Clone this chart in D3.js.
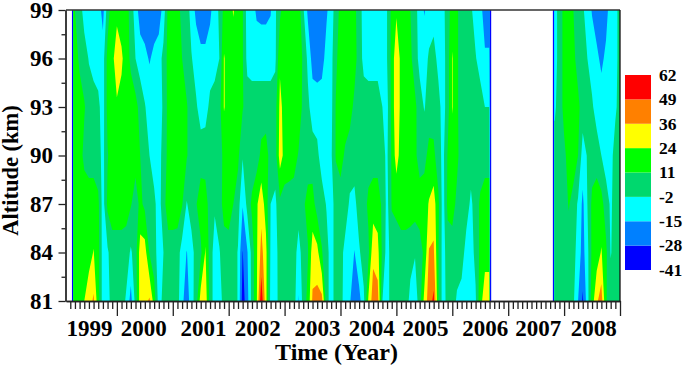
<!DOCTYPE html>
<html>
<head>
<meta charset="utf-8">
<script src="https://d3js.org/d3.v7.min.js"></script>
<style>
  html, body { margin: 0; padding: 0; background: #fff; }
  text { font-family: "Liberation Serif", serif; font-weight: bold; fill: #000; }
</style>
</head>
<body>
<svg id="chart" width="685" height="368"></svg>
<script>
// altitude rows, one value per month (1999 Apr - 2006 Aug, then 2007 Nov - 2009 Jan)
var altitudes = [99, 96, 93, 90, 87, 84, 81];
var alt99 = [11,5,-8,-8,-8,-8,-20,5,18, 20,18,18,5,-8,-22,-22,-22,-22,-22,-10,15, 18,18,5,5,-8,-18,-22,-22,-18,-8,0,15, 18,25,18,12,-8,-10,-17,-18,-18,-16,-4,8, 18,18,18,18,0,-18,-22,-22,-22,-17,-8,4, 15,18,18,14,5,-8,-13,-10,-8,-8,-2,15, 22,18,18,11,3,-8,-16,-10,-8,-8,-6,5, 18,13,5,3,0,-8,-10,-22, -8,4, 15,18,11,5,0,-8,-16,-22,-22,-20,-8,-6, 3];
var alt96 = [18,8,5,-3,-8,-8,-8,15,20, 32,26,18,8,-2,-8,-12,-16,-12,-8,2,15, 18,18,11,5,-1,-8,-12,-12,-8,-8,-2,25, 18,18,18,12,-6,-8,-8,-8,-8,-8,-5,22, 18,18,18,18,9,-5,-20,-22,-20,-10,-6,8, 18,18,18,16,5,-6,-8,-8,-8,-8,-2,15, 34,20,18,14,4,-6,-8,0,3,-6,-8,5, 25,13,5,5,3,-1,-8,-13, -8,4, 15,18,14,6,4,-2,-8,-12,-18,-12,-8,-6, 3];
var alt93 = [18,18,12,6,5,1,-8,15,18, 22,20,18,18,16,6,-1,-8,-8,-8,0,15, 18,18,18,12,5,0,-8,-7,1,5,6,25, 18,18,18,12,5,5,5,5,5,5,6,27, 20,18,18,18,8,1,-8,-8,-8,-8,-6,12, 18,18,16,8,5,5,5,5,5,-2,-6,15, 34,20,18,18,14,4,-3,4,5,3,-8,5, 25,13,5,5,5,5,5,-2, -4,4, 15,18,18,14,5,5,0,-8,-8,-8,-8,-4, 3];
var alt90 = [18,16,8,5,5,3,-6,10,18, 18,18,18,18,16,11,5,-2,-8,-6,2,15, 18,18,18,12,5,5,5,5,5,5,6,14, 18,18,14,-1,4,2,5,14,16,6,5,30, 20,18,16,10,5,5,4,1,-8,-8,-4,12, 16,9,5,5,5,5,5,5,5,1,-4,13, 30,18,18,18,14,5,7,15,14,4,-6,12, 18,14,5,5,5,5,5,5, 3,5, 8,16,18,11,-8,-1,5,5,-2,-8,-6,3, 5];
var alt87 = [18,18,18,18,18,14,-8,14,18, 18,18,16,12,5,14,8,5,1,-8,6,18, 18,18,12,-3,5,10,18,17,5,0,5,16, 18,11,4,-14,2,14,22,32,18,-2,-5,8, 5,5,5,5,9,15,16,5,4,-3,-8,4, 5,5,-4,-6,5,5,14,18,18,8,-6,12, 14,18,18,18,18,18,18,25,30,14,-8,14, 16,8,5,5,-5,5,13,18, 5,5, 5,12,6,-4,-18,-2,14,18,16,4,-4,3, 5];
var alt84 = [18,18,18,20,24.5,16,-8,-4,5, 5,5,5,-4,5,30,30,10,3,-8,-2,5, 5,4,-8,-15.5,-8,4,8,25,5,-8,-3,5, 5,5,-3,-28.5,-16,3,22,40,28,-4,-8,5, 5,5,5,-8,5,10,30,28,12,3,-8,4, 3,-6,-8,-15.5,-4,5,8,33,28,8,-8,5, 5,5,5,3,-1,5,14,37,38,12,-8,5, 5,5,5,-8,-8,2,14,20, 5,5, 5,5,3,-8,-20,-6,14,18,25,14,-3,4, 5];
var alt81 = [18,18,24,30,38,16,-8,-8,5, 5,5,-4,-20,3,30,32,38,18,-8,2,5, 5,3,-12,-22,-8,5,30,32,5,-8,-8,3, 5,5,-3,-34,-20,3,22,58,28,-6,-8,4, 5,5,5,-16,3,15,38,40,40,3,-8,4, 3,-8,-14,-22,-20,-5,26,42,42,-2,-8,5, 5,5,5,-6,-10,5,28,42,52,12,-8,3, 5,-4,-8,-8,-15,-4,20,30, 5,5, 5,5,0,-15,-30,-8,18,34,42,12,5,5, 5];
var altRows = [alt99, alt96, alt93, alt90, alt87, alt84, alt81];

var levels = [-41, -28, -15, -2, 11, 24, 36, 49, 62];
var colors = ["#0000ff", "#0080ff", "#00ffff", "#00d86e", "#00ff00", "#ffff00", "#ff8000", "#ff0000"];
var noData = -100;     // below the first level, so it stays white
var edgeValue = -29;   // the thin blue line round the data gap

var yearLabels = ["1999", "2000", "2001", "2002", "2003", "2004", "2005", "2006", "2007", "2008"];
var yearLabelTimes = [1999.5, 2000.47, 2001.54, 2002.51, 2003.58, 2004.55, 2005.51, 2006.58, 2007.53, 2008.52];

var x = d3.scaleLinear().domain([1999.09, 2009]).range([66, 620]);
var y = d3.scaleLinear().domain([81, 99]).range([301, 10]);

// column times: edges of the data blocks are packed tight so the ramp is thin
var monthsA = d3.range(3, 92).map(function(m) { return 1999 + m / 12; });
var monthsB = d3.range(106, 121).map(function(m) { return 1999 + m / 12; });
var colTimes = [1999.193, 1999.197, 1999.215, 1999.222]
  .concat(monthsA)
  .concat([2006.66, 2006.677, 2006.695, 2006.7, 2007.795, 2007.8, 2007.818, 2007.825])
  .concat(monthsB);

function fullRow(row) {
  var a = row.slice(0, 89), b = row.slice(89);
  return [noData, edgeValue, edgeValue, a[0]]
    .concat(a)
    .concat([a[88], edgeValue, edgeValue, noData, noData, edgeValue, edgeValue, b[0]])
    .concat(b);
}

var grid = [];
altRows.forEach(function(row) {
  grid = grid.concat(fullRow(row));
});

var nCols = colTimes.length, nRows = altitudes.length;

var contours = d3.contours()
  .size([nCols, nRows])
  .thresholds(levels.slice(0, -1))
  (grid);

// grid point i sits at contour coordinate i + 0.5
var colScale = d3.scaleLinear().domain(d3.range(nCols)).range(colTimes).clamp(true);
var rowScale = d3.scaleLinear().domain(d3.range(nRows)).range(altitudes).clamp(true);
var path = d3.geoPath(d3.geoTransform({
  point: function(cx, cy) {
    this.stream.point(x(colScale(cx - 0.5)), y(rowScale(cy - 0.5)));
  }
}));

var svg = d3.select("#chart");

svg.append("g").selectAll("path")
  .data(contours)
  .enter().append("path")
  .attr("d", path)
  .attr("fill", function(d, i) { return colors[i]; });

// frame
svg.append("line").attr("x1", x.range()[0]).attr("x2", x.range()[1])
  .attr("y1", y(99)).attr("y2", y(99)).attr("stroke", "#333").attr("stroke-width", 1.3);
svg.append("line").attr("x1", x(2009)).attr("x2", x(2009))
  .attr("y1", y(99)).attr("y2", y(81)).attr("stroke", "#111").attr("stroke-width", 1.3);

// x axis
var majorYears = d3.range(2000, 2010);
var minorMonths = d3.range(2, 121).map(function(m) { return 1999 + m / 12; })
  .filter(function(t) { return majorYears.indexOf(t) < 0; });

function styleAxis(g) {
  g.selectAll("path, line").attr("stroke", "#222").attr("stroke-width", 1.3);
}

svg.append("g").attr("transform", "translate(0," + y(81) + ")")
  .call(d3.axisBottom(x).tickValues(minorMonths).tickSize(8).tickSizeOuter(0).tickFormat(""))
  .call(styleAxis);
svg.append("g").attr("transform", "translate(0," + y(81) + ")")
  .call(d3.axisBottom(x).tickValues(majorYears).tickSize(15).tickSizeOuter(0).tickFormat(""))
  .call(styleAxis);

var yearAxis = svg.append("g").attr("transform", "translate(0,317)")
  .call(d3.axisBottom(x).tickValues(yearLabelTimes).tickSize(0).tickPadding(3)
    .tickFormat(function(d, i) { return yearLabels[i]; }));
yearAxis.select(".domain").remove();
yearAxis.selectAll("text").style("font-size", "23px")
  .style("font-family", "Liberation Serif").style("font-weight", "bold");

// y axis
var majorAlt = d3.range(81, 100, 3);
var minorAlt = d3.range(82.5, 99, 3);

svg.append("g").attr("transform", "translate(65.5,0)")
  .call(d3.axisLeft(y).tickValues(minorAlt).tickSize(4).tickSizeOuter(0).tickFormat(""))
  .call(styleAxis);
var altAxis = svg.append("g").attr("transform", "translate(65.5,0)")
  .call(d3.axisLeft(y).tickValues(majorAlt).tickSize(7).tickSizeOuter(0).tickPadding(5.5).tickFormat(d3.format("d")))
  .call(styleAxis);
altAxis.selectAll("text").style("font-size", "23px")
  .style("font-family", "Liberation Serif").style("font-weight", "bold");

// axis titles
svg.append("text").attr("x", 336.5).attr("y", 360)
  .attr("text-anchor", "middle").style("font-size", "24px")
  .text("Time (Year)");
svg.append("text").attr("transform", "translate(18,170.5) rotate(-90)")
  .attr("text-anchor", "middle").style("font-size", "22.5px")
  .text("Altitude (km)");

// colour bar
var legendY = d3.scaleLinear().domain([0, colors.length]).range([270, 75]);
svg.append("g").selectAll("rect")
  .data(colors)
  .enter().append("rect")
  .attr("x", 625).attr("width", 26)
  .attr("y", function(d, i) { return legendY(i + 1); })
  .attr("height", function(d, i) { return legendY(i) - legendY(i + 1); })
  .attr("fill", function(d) { return d; });
svg.append("g").selectAll("text")
  .data(levels)
  .enter().append("text")
  .attr("x", 659)
  .attr("y", function(d, i) { return legendY(i); })
  .attr("dy", "0.33em")
  .style("font-size", "17.5px")
  .text(function(d) { return d; });
</script>
</body>
</html>
